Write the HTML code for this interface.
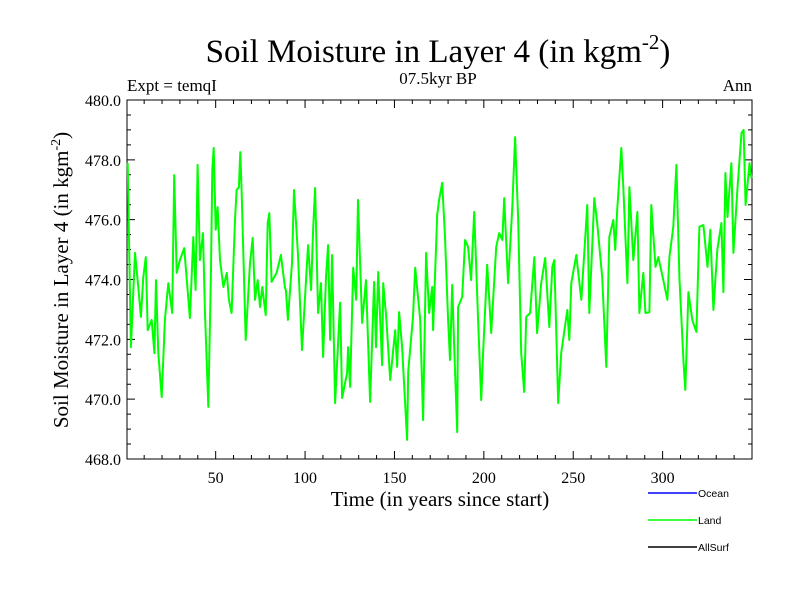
<!DOCTYPE html>
<html><head><meta charset="utf-8"><style>
body{margin:0;background:#fff;width:800px;height:600px;overflow:hidden}
svg text{font-family:"Liberation Serif",serif}
</style></head><body>
<svg id="chart" width="800" height="600" xmlns="http://www.w3.org/2000/svg">
<text x="438" y="62" font-size="33" text-anchor="middle">Soil Moisture in Layer 4 (in kgm<tspan font-size="21" dy="-13">-2</tspan><tspan dy="13">)</tspan></text>
<text x="127" y="91" font-size="17">Expt = temqI</text>
<text x="438" y="84" font-size="17" text-anchor="middle">07.5kyr BP</text>
<text x="752" y="91" font-size="17" text-anchor="end">Ann</text>
<text transform="translate(68,280) rotate(-90)" font-size="21" text-anchor="middle">Soil Moisture in Layer 4 (in kgm<tspan font-size="14" dy="-8">-2</tspan><tspan dy="8">)</tspan></text>
<text x="440" y="506" font-size="21" text-anchor="middle">Time (in years since start)</text>
<g id="axes"></g>
<g id="series"></g>
<g>
<line x1="648" y1="493" x2="697" y2="493" stroke="#0000ff" stroke-width="1.5"/>
<text x="698" y="497" font-size="10.5" style="font-family:'Liberation Sans',sans-serif">Ocean</text>
<line x1="648" y1="520" x2="697" y2="520" stroke="#00ff00" stroke-width="1.5"/>
<text x="698" y="524" font-size="10.5" style="font-family:'Liberation Sans',sans-serif">Land</text>
<line x1="648" y1="547" x2="697" y2="547" stroke="#000" stroke-width="1.5"/>
<text x="698" y="551" font-size="10.5" style="font-family:'Liberation Sans',sans-serif">AllSurf</text>
</g>
</svg>
<script>
const years=[0.8,2.6,4.9,6.7,8.2,9.5,10.9,12.0,14.2,15.7,16.6,17.9,19.8,21.6,23.5,25.7,26.8,28.2,30.0,32.4,35.6,37.5,38.8,39.9,41.2,42.9,44.0,45.9,47.4,48.1,48.9,50.0,51.1,52.4,54.3,56.2,57.4,58.9,60.8,61.7,63.0,63.8,64.5,66.8,69.2,70.7,72.0,73.5,74.8,76.1,78.0,79.1,80.0,81.3,84.1,86.5,88.8,
89.3,90.4,92.7,93.8,96.0,98.3,101.1,101.7,103.4,104.5,105.6,107.3,108.9,110.1,111.7,112.9,114.0,115.1,116.8,119.6,120.7,123.5,124.1,125.2,126.9,128.6,129.6,131.9,134.1,136.4,138.6,139.7,140.9,143.1,143.7,145.4,147.6,150.4,151.5,152.6,154.3,157.1,157.7,160.4,161.6,164.4,166.0,167.7,169.4,171.1,171.6,173.9,175.0,
176.7,178.3,180.0,181.1,182.3,183.4,185.1,185.6,187.9,189.5,191.2,192.9,194.6,196.8,198.5,199.6,201.9,204.1,206.9,208.6,210.3,211.4,213.6,215.9,217.5,219.2,220.9,222.6,223.7,225.9,228.2,229.8,232.1,234.3,236.6,238.3,239.4,241.6,243.3,246.7,247.8,248.9,251.7,254.5,257.9,259.0,261.8,
263.4,266.2,268.5,270.2,272.4,273.5,274.6,276.9,278.0,280.3,281.4,283.6,285.9,287.0,289.2,290.4,292.6,293.7,296.0,297.6,300.4,302.7,303.8,306.0,307.7,309.4,311.6,312.7,314.4,316.6,318.9,320.6,322.8,325.1,326.7,328.4,330.6,332.9,334.0,335.1,336.3,338.5,339.6,341.9,344.1,345.3,346.4,347.5,348.6,349.7];
const landValues=[477.89,471.74,474.89,473.75,472.75,474.08,474.75,472.31,472.65,471.54,473.98,471.54,470.07,472.65,473.88,472.88,477.49,474.22,474.65,475.05,472.71,475.42,473.65,477.83,474.65,475.55,472.98,469.74,474.32,477.66,478.40,475.66,476.42,474.65,473.75,474.22,473.32,472.88,475.99,476.99,477.09,478.26,476.99,471.98,474.55,475.39,473.32,473.98,473.08,473.75,472.81,475.89,476.22,473.92,474.22,474.82,473.72,
473.65,472.65,474.55,476.99,474.89,471.64,474.55,475.15,473.65,475.66,477.06,472.88,473.88,471.41,474.08,475.15,471.98,474.82,469.87,473.22,470.04,470.88,471.74,470.41,474.39,473.32,476.66,472.55,473.98,469.91,473.92,471.74,474.25,471.14,473.88,472.75,470.64,472.31,471.08,472.91,471.74,468.64,470.91,472.75,474.39,472.65,469.30,474.89,472.88,473.75,472.31,476.16,476.66,
477.23,475.42,472.65,471.31,473.82,471.74,468.90,473.08,473.42,475.32,475.09,473.98,476.26,472.65,469.97,471.54,474.49,472.21,475.09,475.55,475.32,476.72,473.88,476.42,478.76,475.99,471.54,470.24,472.75,472.88,474.75,472.21,473.88,474.72,472.41,474.42,474.65,469.87,471.54,472.98,471.98,473.88,474.82,473.32,476.49,472.88,476.72,
475.89,474.08,471.08,475.42,475.99,474.99,476.32,478.40,477.09,473.88,477.09,474.65,476.26,472.88,474.22,472.88,472.91,476.49,474.42,474.75,473.98,473.32,474.75,475.76,477.83,474.08,471.31,470.31,473.58,472.65,472.25,475.76,475.82,474.42,475.66,472.98,474.99,475.89,473.58,477.56,476.09,477.89,474.89,477.06,478.90,479.00,476.49,477.16,477.89,477.39];
const yTicks=[468,470,472,474,476,478,480];
const yTickLabels=["468.0","470.0","472.0","474.0","476.0","478.0","480.0"];
const xTicks=[50,100,150,200,250,300];
const xTickLabels=["50","100","150","200","250","300"];

const L=127,R=752,T=100,B=459;
const X0=0.4,X1=350,Y0=468,Y1=480;
const sx=v=>L+(v-X0)/(X1-X0)*(R-L);
const sy=v=>B-(v-Y0)/(Y1-Y0)*(B-T);
const NS='http://www.w3.org/2000/svg';
const ax=document.getElementById('axes');
function mk(tag,attrs){const e=document.createElementNS(NS,tag);for(const k in attrs)e.setAttribute(k,attrs[k]);return e;}
const frame=mk('rect',{x:L,y:T,width:R-L,height:B-T,fill:'none',stroke:'#000','stroke-width':1});


ax.appendChild(frame);
let tp='';
for(let v=Y0;v<=Y1+1e-9;v+=0.5){const y=sy(v);const major=Math.abs(v-Math.round(v/2)*2)<1e-6;const len=major?8:4;tp+=`M${L} ${y}h${len}M${R} ${y}h${-len}`;}
for(let v=10;v<X1;v+=10){const x=sx(v);const len=(v%50===0)?8:4;tp+=`M${x} ${B}v${-len}M${x} ${T}v${len}`;}
const ticks=mk('path',{d:tp,stroke:'#000','stroke-width':1,fill:'none'});


ax.appendChild(ticks);
yTicks.forEach((v,i)=>{const t=mk('text',{x:L-6,y:sy(v)+6,'font-size':16,'text-anchor':'end'});t.textContent=yTickLabels[i];


ax.appendChild(t);});
xTicks.forEach((v,i)=>{const t=mk('text',{x:sx(v),y:B+24,'font-size':16,'text-anchor':'middle'});t.textContent=xTickLabels[i];


ax.appendChild(t);});
const d=years.map((yr,i)=>(i?'L':'M')+sx(yr).toFixed(1)+' '+sy(landValues[i]).toFixed(1)).join('');
const line=mk('path',{d:d,stroke:'#00ff00','stroke-width':2,fill:'none','stroke-linejoin':'round'});


document.getElementById('series').appendChild(line);
</script>
</body></html>
